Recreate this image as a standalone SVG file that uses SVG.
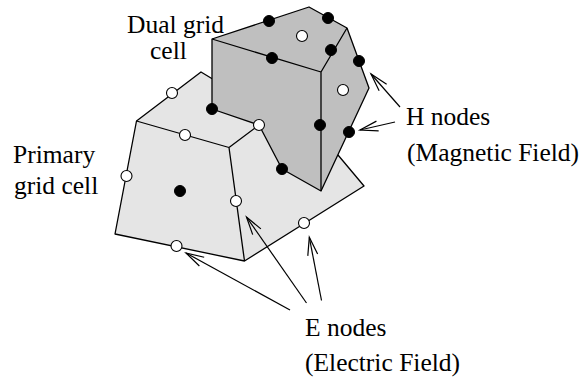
<svg xmlns="http://www.w3.org/2000/svg" width="586" height="377" viewBox="0 0 586 377">
<style>
.e{stroke:#000;stroke-width:1.3;fill:none;stroke-linejoin:round}
.p{fill:#e5e5e5;stroke:#000;stroke-width:1.3;stroke-linejoin:round}
.d{fill:#bfbfbf;stroke:#000;stroke-width:1.3;stroke-linejoin:round}
.b{fill:#000;stroke:#000;stroke-width:1}
.w{fill:#fff;stroke:#000;stroke-width:1.1}
.a{stroke:#000;stroke-width:1.2;fill:none;marker-end:url(#v)}
text{font-family:"Liberation Serif","Times New Roman",serif;font-size:25.5px;fill:#000}
</style>
<defs>
<marker id="v" markerUnits="userSpaceOnUse" markerWidth="24" markerHeight="16" refX="20" refY="8" orient="auto" overflow="visible">
<path d="M2 3 L20 8 L2 13" fill="none" stroke="#000" stroke-width="1.2"/>
</marker>
</defs>
<rect width="586" height="377" fill="#fff"/>
<g id="primary-cell">
<path class="p" d="M136.500 121 L201 72 L338 155 L364 186 L244.500 261 L115 234 Z"/>
<path class="e" d="M136.500 121 L229 147.500 L259 125 M229 147.500 L244.500 261"/>
</g>
<g id="dual-cell">
<path class="d" d="M212 39 L309 7 L347 28 L369 88 L321 191 L282 169 L259 125 L212 109 Z"/>
<path class="e" d="M212 39 L321 72 L347 28 M321 72 L321 191"/>
</g>
<g id="h-nodes">
<circle class="b" cx="269" cy="21" r="5.500"/>
<circle class="b" cx="328" cy="18" r="5.500"/>
<circle class="b" cx="331" cy="50" r="5.500"/>
<circle class="b" cx="359" cy="61" r="5.500"/>
<circle class="b" cx="272" cy="58" r="5.500"/>
<circle class="b" cx="212" cy="109" r="5.500"/>
<circle class="b" cx="320" cy="125" r="5.500"/>
<circle class="b" cx="349" cy="132" r="5.500"/>
<circle class="b" cx="282" cy="169" r="5.500"/>
<circle class="b" cx="180" cy="191" r="5.500"/>
</g>
<g id="e-nodes">
<circle class="w" cx="302" cy="36" r="5.500"/>
<circle class="w" cx="343" cy="90" r="5.500"/>
<circle class="w" cx="259" cy="125" r="5.500"/>
<circle class="w" cx="172" cy="93" r="5.500"/>
<circle class="w" cx="185" cy="135" r="5.500"/>
<circle class="w" cx="126.500" cy="176" r="5.500"/>
<circle class="w" cx="236" cy="201" r="5.500"/>
<circle class="w" cx="176.500" cy="246" r="5.500"/>
<circle class="w" cx="304" cy="223" r="5.500"/>
</g>
<g id="connectors">
<path class="a" d="M400 107 L371 74"/>
<path class="a" d="M395 122 L360 130"/>
<path class="a" d="M290 310 L186 253"/>
<path class="a" d="M306.500 303 L246.500 217"/>
<path class="a" d="M321.500 300.500 L309.300 237.300"/>
</g>
<g id="labels">
<text x="127" y="33">Dual grid</text>
<text x="150" y="59">cell</text>
<text x="13" y="163">Primary</text>
<text x="14" y="194">grid cell</text>
<text x="406" y="125">H nodes</text>
<text x="407" y="160.500">(Magnetic Field)</text>
<text x="305" y="335.500">E nodes</text>
<text x="305" y="371">(Electric Field)</text>
</g>
</svg>
